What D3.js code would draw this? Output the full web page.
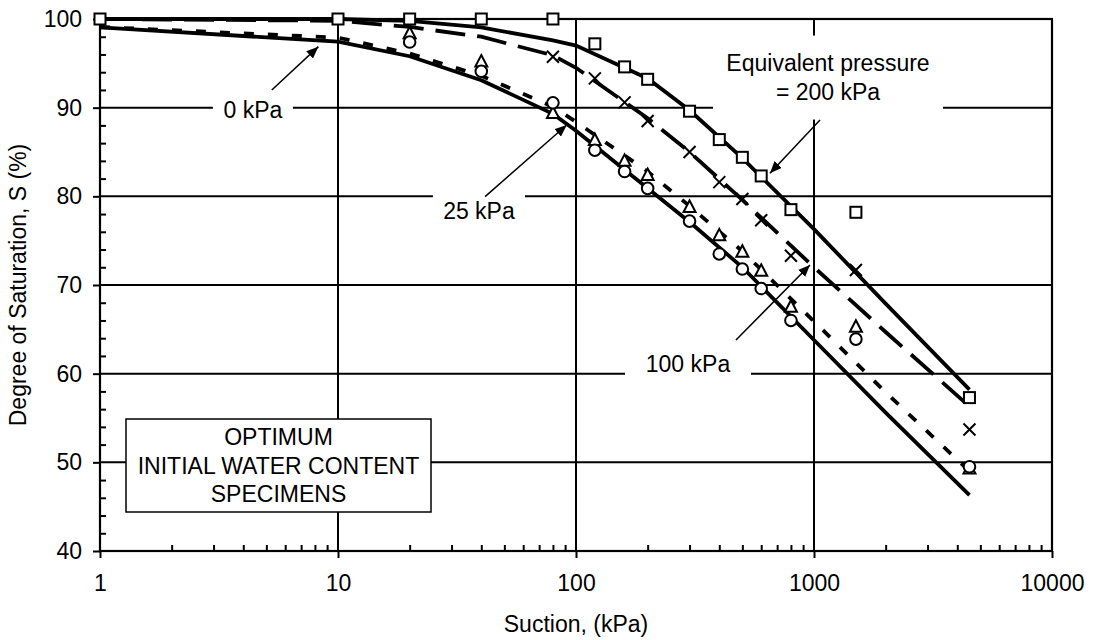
<!DOCTYPE html>
<html>
<head>
<meta charset="utf-8">
<script src="https://cdn.jsdelivr.net/npm/d3@7"></script>
<style>
  html, body { margin: 0; padding: 0; background: #fff; }
  svg { display: block; font-family: "Liberation Sans", Arial, sans-serif; }
</style>
</head>
<body>
<svg id="chart" width="1094" height="640"></svg>
<script>
// Measured suction values (kPa) shared by all specimen series
const suction = [1, 10, 20, 40, 80, 120, 160, 200, 300, 400, 500, 600, 800, 1500, 4500];

// Degree of saturation (%) for each equivalent pressure
const sat200 = [100, 100, 100, 100, 100, 97.2, 94.6, 93.2, 89.6, 86.4, 84.4, 82.3, 78.5, 78.2, 57.3];
const sat100 = [null, null, null, null, 95.75, 93.3, 90.6, 88.5, 85.0, 81.6, 79.7, 77.3, 73.3, 71.7, 53.7];
const sat25  = [null, null, 98.4, 95.2, 89.4, 86.35, 84.0, 82.4, 78.8, 75.6, 73.75, 71.6, 67.55, 65.3, 49.3];
const sat0   = [null, null, 97.4, 94.1, 90.55, 85.2, 82.8, 80.9, 77.2, 73.5, 71.8, 69.6, 66.0, 63.9, 49.5];

// Fitted curves
const fitSuction = [1, 10, 20, 40, 80, 100, 200, 300, 500, 1000, 2000, 4500];
const fit200 = [100, 100, 99.8, 99.05, 97.6, 97.0, 93.3, 89.7, 84.3, 76.3, 67.9, 58.2];
const fit100 = [100, 99.8, 99.1, 98.0, 95.9, 94.5, 88.8, 85.0, 79.6, 72.0, 64.7, 56.3];
const fit25  = [99.1, 97.9, 96.1, 93.6, 90.1, 88.4, 82.8, 78.9, 73.8, 65.9, 57.9, 49.0];
const fit0   = [99.05, 97.45, 95.8, 93.1, 89.3, 87.4, 80.9, 77.1, 72.0, 63.8, 55.6, 46.3];

// Axis ticks
const xTickValues = [1, 10, 100, 1000, 10000];
const xTickLabels = ["1", "10", "100", "1000", "10000"];
const yTickValues = [40, 50, 60, 70, 80, 90, 100];

// Curve labels with arrows (text anchor, arrow tail, arrow head in data units)
const curveLabels = [
  { lines: ["0 kPa"], at: [4.39, 89.74], from: [5.27, 92.0], to: [8.27, 96.88], box: [80, 28] },
  { lines: ["25 kPa"], at: [39.1, 78.38], from: [41.5, 79.96], to: [91.4, 88.05], box: [92, 36] },
  { lines: ["100 kPa"], at: [295.5, 61.06], from: [470, 63.8], to: [962, 72.26], box: [126, 30] },
  { lines: ["Equivalent pressure", "= 200 kPa"], at: [1145, 93.4], from: [1060, 88.6], to: [653, 82.6], box: [230, 84] }
];
const noteLines = ["OPTIMUM", "INITIAL WATER CONTENT", "SPECIMENS"];

const W = 1094, H = 640;
const margin = { top: 19, right: 42, bottom: 89, left: 100 };
const svg = d3.select("#chart");
const FONT = 23;

const x = d3.scaleLog().domain([1, 10000]).range([margin.left, W - margin.right]);
const y = d3.scaleLinear().domain([40, 100]).range([H - margin.bottom, margin.top]);
const x0 = x.range()[0], x1 = x.range()[1], yB = y.range()[0], yT = y.range()[1];

svg.append("rect").attr("width", W).attr("height", H).attr("fill", "#fff");

// Gridlines
const grid = svg.append("g").attr("stroke", "#000").attr("stroke-width", 2);
yTickValues.forEach(v => grid.append("line").attr("x1", x0).attr("x2", x1).attr("y1", y(v)).attr("y2", y(v)));
xTickValues.forEach(v => grid.append("line").attr("x1", x(v)).attr("x2", x(v)).attr("y1", yT).attr("y2", yB));

// Minor ticks pointing inward
const xMinor = [];
for (let d = 1; d < 10000; d *= 10) for (let k = 2; k <= 9; k++) xMinor.push(d * k);
const yMinor = d3.range(42, 100, 2).filter(v => v % 10 !== 0);

svg.append("g").attr("transform", `translate(0,${yB})`)
  .call(d3.axisTop(x).tickValues(xMinor).tickSize(6).tickFormat(""))
  .call(g => { g.select(".domain").remove(); g.selectAll("line").attr("stroke-width", 2); });
svg.append("g").attr("transform", `translate(${x0},0)`)
  .call(d3.axisRight(y).tickValues(yMinor).tickSize(6).tickFormat(""))
  .call(g => { g.select(".domain").remove(); g.selectAll("line").attr("stroke-width", 2); });

// Major axes
svg.append("g").attr("transform", `translate(0,${yB})`)
  .call(d3.axisBottom(x).tickValues(xTickValues).tickSize(7).tickPadding(17)
        .tickFormat((d, i) => xTickLabels[i]))
  .call(g => {
    g.select(".domain").remove();
    g.selectAll("line").attr("stroke-width", 2);
    g.selectAll("text").attr("font-size", FONT).attr("font-family", "Liberation Sans, Arial, sans-serif").attr("fill", "#000");
  });
svg.append("g").attr("transform", `translate(${x0},0)`)
  .call(d3.axisLeft(y).tickValues(yTickValues).tickSize(7).tickPadding(11))
  .call(g => {
    g.select(".domain").remove();
    g.selectAll("line").attr("stroke-width", 2);
    g.selectAll("text").attr("font-size", FONT).attr("font-family", "Liberation Sans, Arial, sans-serif").attr("fill", "#000");
  });

// Plot frame
svg.append("rect").attr("x", x0).attr("y", yT).attr("width", x1 - x0).attr("height", yB - yT)
  .attr("fill", "none").attr("stroke", "#000").attr("stroke-width", 2.2);

// White boxes behind curve labels
curveLabels.forEach(c => {
  const cx = x(c.at[0]), cy = y(c.at[1]);
  svg.append("rect")
    .attr("x", cx - c.box[0] / 2).attr("y", cy - c.box[1] / 2)
    .attr("width", c.box[0]).attr("height", c.box[1]).attr("fill", "#fff");
});

// Fitted curves
const line = d3.line().x(d => x(d[0])).y(d => y(d[1]));
const curves = [
  { vals: fit0,   dash: null },
  { vals: fit25,  dash: "10,14" },
  { vals: fit100, dash: "30,12" },
  { vals: fit200, dash: null }
];
curves.forEach(c => {
  svg.append("path")
    .datum(fitSuction.map((s, i) => [s, c.vals[i]]))
    .attr("d", line)
    .attr("fill", "none").attr("stroke", "#000").attr("stroke-width", 3.8)
    .attr("stroke-dasharray", c.dash);
});

// Markers
function pts(vals) { return suction.map((s, i) => [s, vals[i]]).filter(d => d[1] != null); }
const mk = svg.append("g").attr("stroke", "#000").attr("stroke-width", 2).attr("fill", "#fff");

mk.selectAll(".sq").data(pts(sat200)).join("rect")
  .attr("x", d => x(d[0]) - 5.5).attr("y", d => y(d[1]) - 5.5)
  .attr("width", 11).attr("height", 11);

mk.selectAll(".cr").data(pts(sat100)).join("path")
  .attr("d", d => { const cx = x(d[0]), cy = y(d[1]), r = 6; return `M${cx - r},${cy - r}L${cx + r},${cy + r}M${cx - r},${cy + r}L${cx + r},${cy - r}`; });

mk.selectAll(".tr").data(pts(sat25)).join("path")
  .attr("d", d => { const cx = x(d[0]), cy = y(d[1]); return `M${cx},${cy - 6.5}L${cx + 6},${cy + 5}L${cx - 6},${cy + 5}Z`; });

mk.selectAll(".ci").data(pts(sat0)).join("circle")
  .attr("cx", d => x(d[0])).attr("cy", d => y(d[1])).attr("r", 5.8);

// Arrows
svg.append("defs").append("marker")
  .attr("id", "head").attr("viewBox", "0 0 12 10").attr("refX", 12).attr("refY", 5)
  .attr("markerWidth", 12).attr("markerHeight", 10).attr("markerUnits", "userSpaceOnUse")
  .attr("orient", "auto")
  .append("path").attr("d", "M0,0L12,5L0,10Z").attr("fill", "#000");

curveLabels.forEach(c => {
  svg.append("line")
    .attr("x1", x(c.from[0])).attr("y1", y(c.from[1]))
    .attr("x2", x(c.to[0])).attr("y2", y(c.to[1]))
    .attr("stroke", "#000").attr("stroke-width", 1.5).attr("marker-end", "url(#head)");
  const cx = x(c.at[0]), cy = y(c.at[1]);
  const n = c.lines.length, lh = 28.4;
  c.lines.forEach((t, i) => {
    svg.append("text").attr("x", cx).attr("y", cy + (i - (n - 1) / 2) * lh)
      .attr("dy", "0.35em").attr("text-anchor", "middle").attr("font-size", FONT).text(t);
  });
});

// Specimen note box
const nb = { left: x0 + 26, top: yT + 400, w: 305, h: 93 };
svg.append("rect").attr("x", nb.left).attr("y", nb.top).attr("width", nb.w).attr("height", nb.h)
  .attr("fill", "#fff").attr("stroke", "#000").attr("stroke-width", 1.5);
noteLines.forEach((t, i) => {
  svg.append("text").attr("x", nb.left + nb.w / 2).attr("y", nb.top + nb.h / 2 + (i - 1) * 28.7)
    .attr("dy", "0.35em").attr("text-anchor", "middle").attr("font-size", FONT).text(t);
});

// Axis titles
svg.append("text").attr("x", (x0 + x1) / 2).attr("y", 632).attr("text-anchor", "middle")
  .attr("font-size", FONT).text("Suction, (kPa)");
svg.append("text").attr("transform", `translate(26,${(yT + yB) / 2}) rotate(-90)`)
  .attr("text-anchor", "middle").attr("font-size", FONT).text("Degree of Saturation, S (%)");
</script>
</body>
</html>
